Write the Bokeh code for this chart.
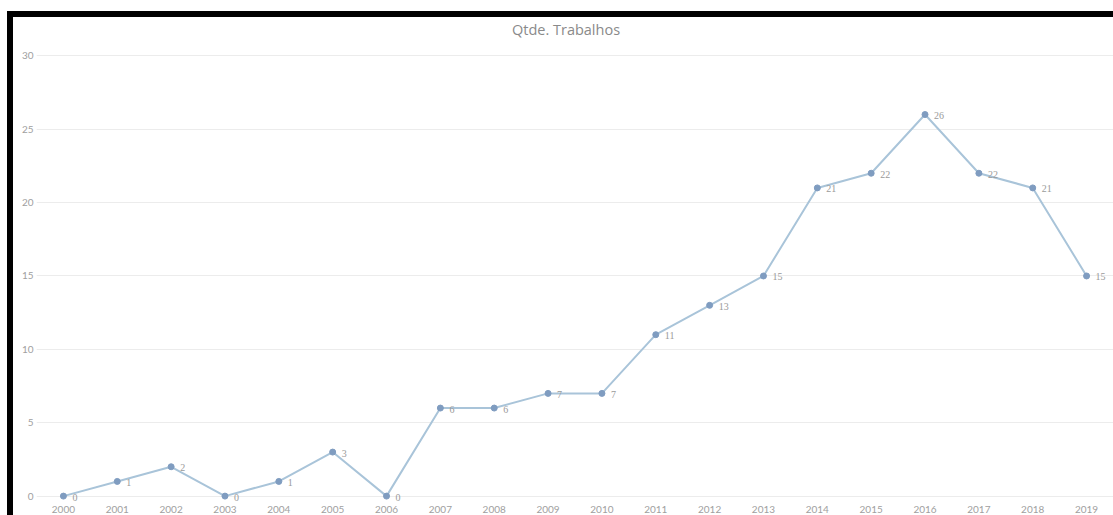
from bokeh.plotting import figure
from bokeh.models import ColumnDataSource, Range1d, FactorRange, LabelSet, Div
from bokeh.layouts import column, row
from bokeh.embed import file_html
from bokeh.resources import INLINE

years = [str(y) for y in range(2000, 2020)]
counts = [0, 1, 2, 0, 1, 3, 0, 6, 6, 7, 7, 11, 13, 15, 21, 22, 26, 22, 21, 15]
y_ticks = [0, 5, 10, 15, 20, 25, 30]
title_text = "Qtde. Trabalhos"

FONT = "Lato"
source = ColumnDataSource(dict(x=years, y=counts, label=[str(c) for c in counts]))

p = figure(width=1100, height=468, output_backend="svg", toolbar_location=None,
           x_range=FactorRange(*years), y_range=Range1d(-0.64, 30.5),
           min_border_left=23, min_border_right=0, min_border_top=1, min_border_bottom=0,
           margin=(0, 0, 0, 0))

p.outline_line_color = None
p.xgrid.grid_line_color = None
p.ygrid.grid_line_color = "#ececec"
p.ygrid.ticker = y_ticks

p.yaxis.ticker = y_ticks
p.yaxis.axis_line_color = None
p.yaxis.major_tick_line_color = None
p.yaxis.minor_tick_line_color = None
p.yaxis.major_tick_out = 0
p.yaxis.major_label_text_font = FONT
p.yaxis.major_label_text_font_size = "10px"
p.yaxis.major_label_text_color = "#a0a0a0"
p.yaxis.major_label_standoff = 3

p.xaxis.axis_line_color = None
p.xaxis.major_tick_line_color = None
p.xaxis.major_tick_out = 0
p.xaxis.major_label_text_font = FONT
p.xaxis.major_label_text_font_size = "10px"
p.xaxis.major_label_text_color = "#a0a0a0"
p.xaxis.major_label_standoff = 0

p.line("x", "y", source=source, line_color="#a9c4d9", line_width=2)
p.scatter("x", "y", source=source, size=6, fill_color="#7f9cc0", line_color="#7f9cc0")

labels = LabelSet(x="x", y="y", text="label", source=source, x_offset=9, y_offset=-1,
                  text_font=FONT, text_font_size="10px", text_color="#9a9a9a",
                  text_baseline="middle", text_align="left")
p.add_layout(labels)

title_div = Div(text=title_text, width=1100, height=30, margin=(0, 0, 0, 0),
                styles={"font-family": "Open Sans", "font-size": "14.5px",
                        "color": "#8a8a8a", "text-align": "center",
                        "line-height": "26px", "padding-left": "6px",
                        "box-sizing": "border-box"})

top_bar = Div(text="", width=1106, height=6, margin=(11, 0, 0, 7),
              styles={"background-color": "black"})
left_bar = Div(text="", width=6, height=498, margin=(0, 0, 0, 7),
               styles={"background-color": "black"})
right_col = column(title_div, p, spacing=0, margin=(0, 0, 0, 0))
layout = column(top_bar, row(left_bar, right_col, spacing=0, margin=(0, 0, 0, 0)),
                spacing=0, margin=(0, 0, 0, 0))

open("out.html", "w").write(file_html(layout, INLINE))
